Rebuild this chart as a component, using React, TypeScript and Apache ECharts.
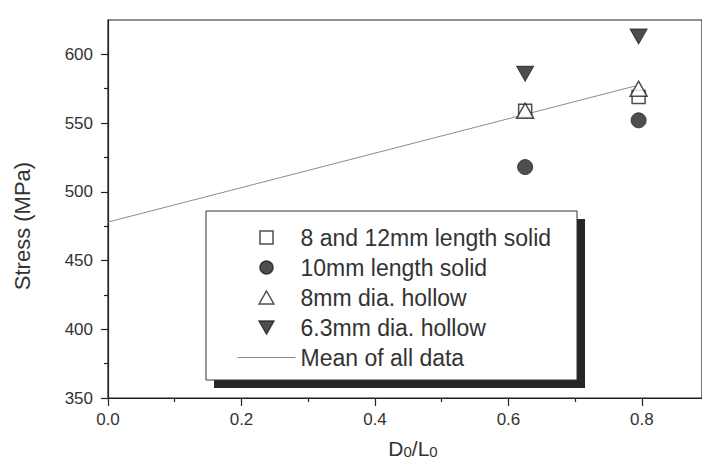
import React, { useEffect, useRef } from "react";
import * as echarts from "echarts";

// ---- data ----
const seriesNames = [
  "8 and 12mm length solid",
  "10mm length solid",
  "8mm dia. hollow",
  "6.3mm dia. hollow",
];
const meanName = "Mean of all data";
const xValues = [0.625, 0.795];
const solid812 = [559, 569];
const solid10 = [518, 552];
const hollow8 = [559, 575];
const hollow63 = [586, 613];
const meanX = [0, 0.79];
const meanY = [478, 577];

const yTicks = [350, 400, 450, 500, 550, 600];
const yMinorTicks = [375, 425, 475, 525, 575];
const xTicks = [0, 0.2, 0.4, 0.6, 0.8];
const xMinorTicks = [0.1, 0.3, 0.5, 0.7];

const FONT = "'Liberation Sans', Arial, Helvetica, sans-serif";
const INK = "#222";
const TEXT = "#333";

const squarePath = "path://M0,0 L10,0 L10,10 L0,10 Z";
const triUpPath = "path://M8,0 L16,14 L0,14 Z";
const triDownPath = "path://M0,0 L16,0 L8,14 Z";

const pts = (ys: number[]) => xValues.map((x, i) => [x, ys[i]]);

export default function App() {
  const ref = useRef<HTMLDivElement>(null);
  useEffect(() => {
    const chart = echarts.init(ref.current!, null, { renderer: "svg" });
    const hollowStyle = { color: "#fff", borderColor: INK, borderWidth: 1.5 };
    const filledStyle = { color: INK, borderColor: INK, borderWidth: 1 };
    chart.setOption({
      animation: false,
      backgroundColor: "#fff",
      grid: {
        left: 108,
        top: 20,
        right: -2,
        bottom: 66,
        show: true,
        borderColor: INK,
        borderWidth: 1.2,
        backgroundColor: "transparent",
      },
      xAxis: [
        {
          type: "value",
          min: 0,
          max: 0.89,
          interval: 0.2,
          position: "bottom",
          name: "{m|D}{s|0}{m|/L}{s|0}",
          nameLocation: "middle",
          nameGap: 40,
          nameTextStyle: {
            padding: [0, 0, 0, 16],
            rich: {
              m: { fontSize: 21, lineHeight: 21, fontFamily: FONT, color: TEXT },
              s: { fontSize: 15, lineHeight: 9, verticalAlign: "bottom", fontFamily: FONT, color: TEXT },
            },
          },
          axisLine: { show: true, onZero: false, lineStyle: { color: INK, width: 1.2 } },
          axisTick: { show: true, inside: false, length: 8, customValues: xTicks, lineStyle: { color: INK, width: 1.2 } },
          axisLabel: {
            customValues: xTicks,
            margin: 13,
            fontSize: 17,
            fontFamily: FONT,
            color: TEXT,
            formatter: (v: number) => v.toFixed(1),
          },
          splitLine: { show: false },
        },
        {
          type: "value",
          min: 0,
          max: 0.89,
          interval: 0.2,
          position: "bottom",
          axisLine: { show: false },
          axisTick: { show: true, inside: false, length: 4, customValues: xMinorTicks, lineStyle: { color: INK, width: 1.2 } },
          axisLabel: { show: false },
          splitLine: { show: false },
        },
      ],
      yAxis: [
        {
          type: "value",
          min: 350,
          max: 625,
          interval: 50,
          position: "left",
          name: "Stress (MPa)",
          nameLocation: "middle",
          nameGap: 75,
          nameTextStyle: { fontSize: 22, fontFamily: FONT, color: TEXT, padding: [0, 34, 0, 0] },
          axisLine: { show: true, onZero: false, lineStyle: { color: INK, width: 1.2 } },
          axisTick: { show: true, inside: false, length: 7, customValues: yTicks, lineStyle: { color: INK, width: 1.2 } },
          axisLabel: { customValues: yTicks, margin: 15, fontSize: 17, fontFamily: FONT, color: TEXT },
          splitLine: { show: false },
        },
        {
          type: "value",
          min: 350,
          max: 625,
          interval: 50,
          position: "left",
          axisLine: { show: false },
          axisTick: { show: true, inside: false, length: 4, customValues: yMinorTicks, lineStyle: { color: INK, width: 1.2 } },
          axisLabel: { show: false },
          splitLine: { show: false },
        },
      ],
      legend: {
        orient: "vertical",
        left: 237,
        top: 226,
        padding: 0,
        itemWidth: 58,
        itemHeight: 13,
        itemGap: 7,
        selectedMode: false,
        z: 10,
        textStyle: { fontSize: 23, fontFamily: FONT, color: TEXT, padding: [0, 0, 0, 0] },
        itemStyle: { borderWidth: 1.5 },
        lineStyle: { width: 1 },
        data: [
          { name: seriesNames[0], icon: squarePath },
          { name: seriesNames[1], icon: "circle" },
          { name: seriesNames[2], icon: triUpPath },
          { name: seriesNames[3], icon: triDownPath },
          {
            name: meanName,
            itemStyle: { color: "transparent", borderColor: "transparent", borderWidth: 0, opacity: 0 },
          },
        ],
      },
      graphic: [
        {
          type: "rect",
          z: 5,
          shape: { x: 214, y: 219, width: 371, height: 169 },
          style: { fill: "#262626" },
        },
        {
          type: "rect",
          z: 6,
          shape: { x: 206, y: 211, width: 371, height: 169 },
          style: { fill: "#fff", stroke: "#333", lineWidth: 1 },
        },
      ],
      series: [
        {
          name: meanName,
          type: "line",
          z: 1,
          symbol: "none",
          data: meanX.map((x, i) => [x, meanY[i]]),
          lineStyle: { color: "#8c8c8c", width: 1 },
          itemStyle: { color: "#8c8c8c" },
        },
        {
          name: seriesNames[0],
          type: "scatter",
          symbol: squarePath,
          symbolSize: 13,
          data: pts(solid812),
          itemStyle: hollowStyle,
        },
        {
          name: seriesNames[1],
          type: "scatter",
          symbol: "circle",
          symbolSize: 15,
          data: pts(solid10),
          itemStyle: filledStyle,
        },
        {
          name: seriesNames[2],
          type: "scatter",
          symbol: triUpPath,
          symbolSize: [17, 15],
          data: pts(hollow8),
          itemStyle: hollowStyle,
        },
        {
          name: seriesNames[3],
          type: "scatter",
          symbol: triDownPath,
          symbolSize: [17, 15],
          data: pts(hollow63),
          itemStyle: filledStyle,
        },
      ],
    });
    return () => chart.dispose();
  }, []);
  return (
    <div
      ref={ref}
      style={{ position: "fixed", left: 0, top: 0, width: 702, height: 464, background: "#fff" }}
    />
  );
}
